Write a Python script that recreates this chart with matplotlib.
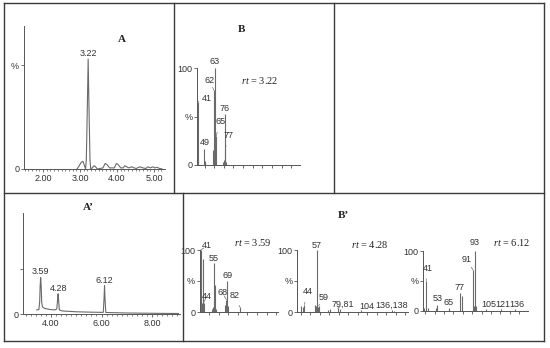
import matplotlib

matplotlib.use("Agg")

import matplotlib.pyplot as plt
from matplotlib.lines import Line2D
from matplotlib.ticker import MultipleLocator

W, H = 550, 348
FRAME = "#3a3a3a"
AXIS = "#555555"
TRACE = "#6a6a6a"
TEXT = "#333333"

# chromatogram A: retention time (min) and intensity (3.22 peak = 100)
chrom_a_rt = [2.92, 2.98, 3.03, 3.08, 3.12, 3.15, 3.17, 3.20, 3.22, 3.24, 3.27, 3.29,
              3.33, 3.38, 3.42, 3.47, 3.62, 3.68, 3.73, 3.80, 3.93, 3.98, 4.03, 4.10,
              4.17, 4.21, 4.26, 4.32, 4.40, 4.46, 4.52, 4.62, 4.70, 4.78, 4.84, 4.90,
              4.97, 5.02, 5.08, 5.15, 5.22]
chrom_a_int = [0, 3, 6, 7, 3, 0, 8, 60, 100, 60, 8, 0,
               1, 3, 2, 0, 1, 5, 4, 1, 1, 5, 4, 1,
               1, 3, 2, 1, 2, 1, 0.5, 2, 1, 0.5, 2, 1,
               2, 1, 1.5, 0.5, 0]
chrom_a_ticks = [2.0, 3.0, 4.0, 5.0]
chrom_a_peaks = [3.22]

# chromatogram A'
chrom_b_rt = [3.43, 3.52, 3.55, 3.57, 3.59, 3.61, 3.63, 3.66, 3.75, 3.95, 4.15, 4.23,
              4.26, 4.28, 4.30, 4.33, 4.45, 5.00, 5.60, 6.07, 6.10, 6.12, 6.14, 6.17,
              7.00, 8.00, 9.05]
chrom_b_int = [4, 4.5, 12, 28, 36, 28, 12, 7, 5.5, 4.5, 4, 5,
               14, 20, 14, 4, 3, 2.2, 1.8, 1.6, 15, 28, 15, 1.5,
               1.0, 0.7, 0.5]
chrom_b_ticks = [4.0, 6.0, 8.0]
chrom_b_peaks = [3.59, 4.28, 6.12]

# mass spectra (m/z, relative intensity %)
ms_322_mz = [41, 42, 49, 50, 51, 61, 62, 63, 64, 65, 74, 75, 76, 77, 78]
ms_322_int = [65, 5, 17, 4, 3, 15, 77, 100, 28, 30, 3, 5, 53, 17, 3]

ms_359_mz = [41, 42, 43, 44, 53, 54, 55, 56, 57, 67, 68, 69, 70, 82]
ms_359_int = [100, 15, 85, 15, 5, 8, 79, 44, 5, 12, 20, 50, 10, 8]

ms_428_mz = [41, 43, 44, 55, 56, 57, 58, 59, 69, 71, 79, 81, 104, 136, 138]
ms_428_int = [10, 8, 12, 12, 10, 100, 8, 10, 4, 5, 6, 5, 3, 3, 2]

ms_612_mz = [39, 41, 43, 51, 53, 65, 77, 79, 91, 92, 93, 94, 105, 121, 136]
ms_612_int = [5, 50, 4, 4, 10, 5, 30, 25, 68, 8, 100, 8, 3, 3, 3]

plt.rcParams["font.family"] = ["Liberation Sans", "DejaVu Sans"]
plt.rcParams["mathtext.fontset"] = "custom"
plt.rcParams["mathtext.rm"] = "Liberation Serif"
plt.rcParams["mathtext.it"] = "Liberation Serif:italic"

fig = plt.figure(figsize=(W / 100, H / 100), dpi=100)


def px_axes(left, top, right, bottom):
    return fig.add_axes([left / W, 1 - bottom / H, (right - left) / W, (bottom - top) / H])


def frame_line(x0, y0, x1, y1, lw=1.0):
    fig.add_artist(Line2D([x0 / W, x1 / W], [1 - y0 / H, 1 - y1 / H],
                          color=FRAME, lw=lw, transform=fig.transFigure))


def fig_text(x, y, s, **kw):
    fig.text(x / W, 1 - y / H, s, ha="center", va="center", color="#222222", **kw)


def style_axes(ax, xlim, ylim, yticks, ylabels):
    ax.set_xlim(*xlim)
    ax.set_ylim(*ylim)
    ax.patch.set_visible(False)
    for side in ("top", "right"):
        ax.spines[side].set_visible(False)
    for side in ("left", "bottom"):
        ax.spines[side].set_color(AXIS)
        ax.spines[side].set_linewidth(0.7)
    ax.set_yticks(yticks)
    ax.set_yticklabels(ylabels)
    ax.tick_params(axis="both", direction="out", colors=AXIS, labelcolor=TEXT,
                   labelsize=6.5, width=0.6, length=2.5, pad=1)
    ax.tick_params(axis="x", which="minor", direction="out", length=1.5, width=0.5, colors=AXIS)


def draw_chrom(ax, rt, inten, peaks, offsets):
    ax.plot(rt, inten, color=TRACE, lw=0.8, clip_on=False)
    for p, dy in zip(peaks, offsets):
        h = max(i for r, i in zip(rt, inten) if abs(r - p) < 0.005)
        ax.annotate(f"{p:.2f}", xy=(p, h), xytext=(0, dy), textcoords="offset points",
                    ha="center", va="center", fontsize=6.5, color=TEXT, annotation_clip=False)


def draw_spectrum(ax, mz, inten, labels):
    ax.vlines(mz, 0, inten, colors=TRACE, lw=0.8, clip_on=False)
    lookup = dict(zip(mz, inten))
    for text, m, dx, dy, leader in labels:
        kw = {}
        if leader:
            kw["arrowprops"] = dict(arrowstyle="-", color=TRACE, lw=0.5, shrinkA=2.5, shrinkB=0)
        ax.annotate(text, xy=(m, lookup[m]), xytext=(dx, dy), textcoords="offset points",
                    ha="center", va="center", fontsize=6.5, color=TEXT,
                    annotation_clip=False, **kw)


# frames
frame_line(4, 3, 544, 3)
frame_line(4, 341, 544, 341)
frame_line(4, 3, 4, 341)
frame_line(544, 3, 544, 341)
frame_line(4, 193, 544, 193)
frame_line(174, 3, 174, 193)
frame_line(334, 3, 334, 193)
frame_line(183, 193, 183, 341)

# panel A
ax = px_axes(24, 26, 165, 169)
style_axes(ax, (1.486, 5.297), (0, 130), [0, 94.5], ["0", "%"])
ax.set_xticks(chrom_a_ticks)
ax.set_xticklabels([f"{t:.2f}" for t in chrom_a_ticks])
ax.xaxis.set_minor_locator(MultipleLocator(0.1))
draw_chrom(ax, chrom_a_rt, chrom_a_int, chrom_a_peaks, [3.6])

# panel A'
ax = px_axes(23, 213, 180, 314)
style_axes(ax, (2.89, 9.11), (0, 100), [0, 45], ["0", ""])
ax.set_xticks(chrom_b_ticks)
ax.set_xticklabels([f"{t:.2f}" for t in chrom_b_ticks])
ax.xaxis.set_minor_locator(MultipleLocator(0.2))
draw_chrom(ax, chrom_b_rt, chrom_b_int, chrom_b_peaks, [4.3, 3.6, 3.6])

# panel B
ax = px_axes(197.3, 68, 300, 165)
style_axes(ax, (40.5, 174), (0, 100), [0, 50, 100], ["0", "%", "100"])
ax.xaxis.set_major_locator(MultipleLocator(12.5))
ax.tick_params(axis="x", labelbottom=False, length=1.8)
draw_spectrum(ax, ms_322_mz, ms_322_int, [
    ("41", 41, 6.4, 2.7, True), ("49", 49, 0.7, 4.0, False),
    ("62", 62, -3.1, 7.4, True), ("63", 63, 0, 4.5, False),
    ("65", 65, 3.1, 10.3, True), ("76", 76, 0, 3.8, False),
    ("77", 77, 2.5, 9.7, True)])

# panel B' spectra
ax = px_axes(200, 250, 278, 312)
style_axes(ax, (40.3, 122), (0, 100), [0, 50, 100], ["0", "%", "100"])
ax.xaxis.set_major_locator(MultipleLocator(10))
ax.tick_params(axis="x", labelbottom=False, length=1.8)
draw_spectrum(ax, ms_359_mz, ms_359_int, [
    ("41", 41, 4.5, 2.9, True), ("44", 44, 2.5, 4.8, True),
    ("55", 55, 0, 3.2, False), ("68", 68, -3.1, 4.8, True),
    ("69", 69, 0, 3.6, False), ("82", 82, -3.6, 8.6, True)])

ax = px_axes(297.3, 250, 408, 312)
style_axes(ax, (36.6, 153), (0, 100), [0, 50, 100], ["0", "%", "100"])
ax.xaxis.set_major_locator(MultipleLocator(10))
ax.tick_params(axis="x", labelbottom=False, length=1.8)
draw_spectrum(ax, ms_428_mz, ms_428_int, [
    ("44", 44, 2.4, 9.3, True), ("57", 57, 0, 3.6, False),
    ("59", 59, 3.9, 6.3, True), ("79,81", 79, 4.0, 2.6, True),
    ("104", 104, 3.9, 2.9, False), ("136,138", 136, 0, 3.2, False)])

ax = px_axes(423.3, 251, 528, 310.7)
style_axes(ax, (38, 149.4), (0, 100), [0, 50, 100], ["0", "%", "100"])
ax.xaxis.set_major_locator(MultipleLocator(10))
ax.tick_params(axis="x", labelbottom=False, length=1.8)
draw_spectrum(ax, ms_612_mz, ms_612_int, [
    ("41", 41, 1.4, 9.2, True), ("53", 53, 0, 4.8, False),
    ("65", 65, 0, 4.1, False), ("77", 77, 0, 3.5, False),
    ("91", 91, -4.6, 7.3, True), ("93", 93, 0, 5.8, False),
    ("105", 105, 1.5, 3.5, False), ("121", 121, 1.0, 3.5, False),
    ("136", 136, 1.0, 3.5, False)])

# titles
serif = dict(family=["Liberation Serif", "DejaVu Serif"])
fig_text(122, 40, "A", fontsize=8, fontweight="bold", **serif)
fig_text(242, 29, "B", fontsize=8, fontweight="bold", **serif)
fig_text(88, 207, "A\u2019", fontsize=8, fontweight="bold", **serif)
fig_text(343, 215, "B\u2019", fontsize=8, fontweight="bold", **serif)
fig_text(260, 80, r"$\mathit{rt}$ = 3.22", fontsize=7.5, **serif)
fig_text(252, 243, r"$\mathit{rt}$ = 3.59", fontsize=7.5, **serif)
fig_text(370, 244, r"$\mathit{rt}$ = 4.28", fontsize=7.5, **serif)
fig_text(512, 243, r"$\mathit{rt}$ = 6.12", fontsize=7.5, **serif)

fig.savefig("out.png", dpi=100)
